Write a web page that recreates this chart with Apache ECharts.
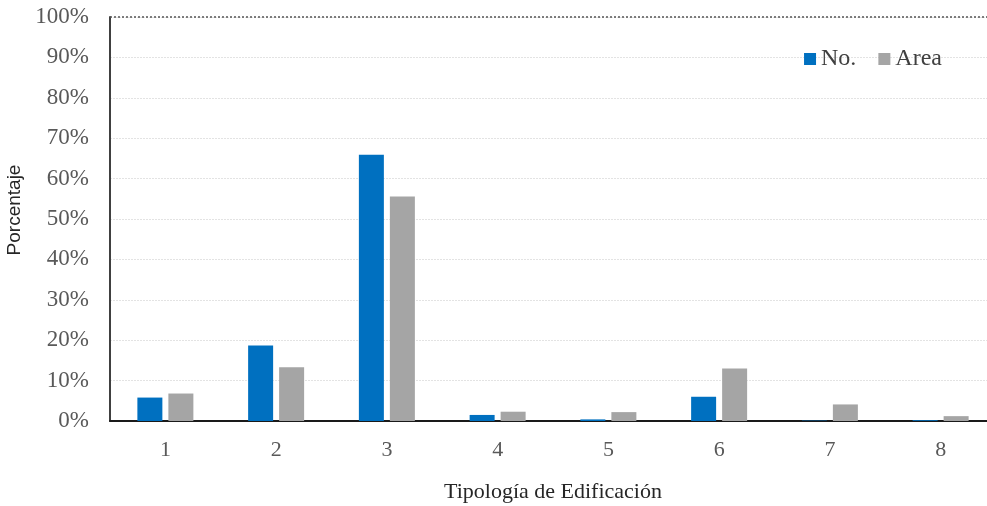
<!DOCTYPE html>
<html>
<head>
<meta charset="utf-8">
<script src="https://cdn.jsdelivr.net/npm/echarts@6/dist/echarts.min.js"></script>
<style>
html,body{margin:0;padding:0;background:#fff;}
#chart{width:987px;height:506px;}
</style>
</head>
<body>
<div id="chart"></div>
<script>
const categories = ['1','2','3','4','5','6','7','8'];
const seriesNames = ['No.', 'Area'];
const noValues = [5.8, 18.7, 65.9, 1.5, 0.4, 6.0, 0.1, 0.2];
const areaValues = [6.8, 13.3, 55.6, 2.3, 2.2, 13.0, 4.1, 1.2];
const yTicks = [0, 10, 20, 30, 40, 50, 60, 70, 80, 90, 100];
const xTitle = 'Tipología de Edificación';
const yTitle = 'Porcentaje';

const serif = '"Liberation Serif", "Times New Roman", serif';
const chart = echarts.init(document.getElementById('chart'), null, {renderer: 'canvas'});
chart.setOption({
  animation: false,
  backgroundColor: '#fff',
  grid: {left: 110, right: -9, top: 17, bottom: 85, containLabel: false, outerBoundsMode: 'none'},
  legend: {
    data: seriesNames,
    right: 40, top: 42,
    itemWidth: 12, itemHeight: 12, itemGap: 22,
    icon: 'rect',
    textStyle: {fontFamily: serif, fontSize: 24, color: '#404040'}
  },
  xAxis: {
    type: 'category',
    data: categories,
    name: xTitle,
    nameLocation: 'middle',
    nameGap: 60,
    nameTextStyle: {fontFamily: serif, fontSize: 22, color: '#262626'},
    axisLine: {show: true, lineStyle: {color: '#1a1a1a', width: 2}},
    axisTick: {show: false},
    axisLabel: {fontFamily: serif, fontSize: 22, color: '#595959', margin: 18},
    splitLine: {show: false}
  },
  yAxis: {
    type: 'value',
    min: 0, max: 100, interval: 10,
    name: yTitle,
    nameLocation: 'middle',
    nameGap: 86,
    nameRotate: 90,
    nameTextStyle: {fontFamily: '"Liberation Sans", Arial, sans-serif', fontSize: 19, color: '#262626', padding: [0, 0, 0, 18]},
    axisLine: {show: true, lineStyle: {color: '#404040', width: 2}},
    axisTick: {show: false},
    axisLabel: {
      fontFamily: serif, fontSize: 23, color: '#595959', margin: 21,
      formatter: v => yTicks.includes(v) ? v + '%' : ''
    },
    splitLine: {show: true, lineStyle: {color: '#e3e3e3', width: 1, type: [2, 1]}}
  },
  series: [
    {
      name: seriesNames[0], type: 'bar', data: noValues,
      barWidth: 25, barGap: '24%',
      itemStyle: {color: '#0070C0'},
      markLine: {
        silent: true, symbol: 'none', label: {show: false},
        lineStyle: {color: '#555', type: [2, 2], width: 1.5},
        data: [{yAxis: 100}]
      }
    },
    {
      name: seriesNames[1], type: 'bar', data: areaValues,
      barWidth: 25,
      itemStyle: {color: '#A5A5A5'}
    }
  ]
});
</script>
</body>
</html>
